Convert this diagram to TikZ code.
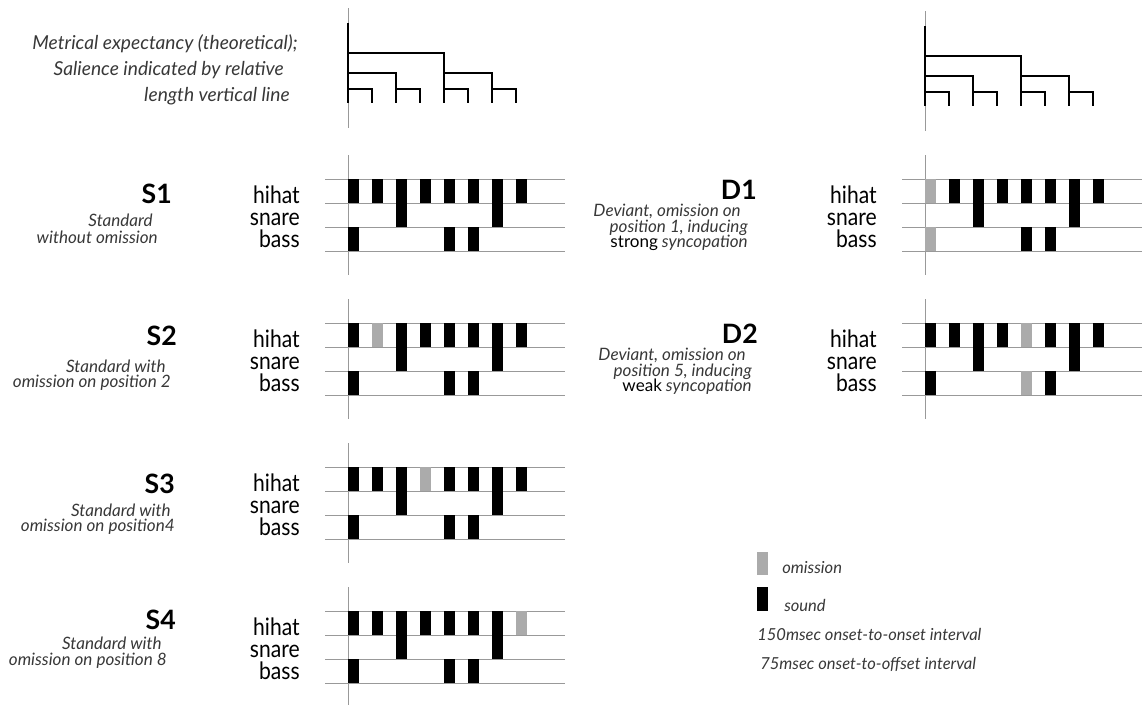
\documentclass[tikz,border=0pt]{standalone}
\usepackage{fontspec}
\setmainfont{Lato}
\usetikzlibrary{positioning}
\colorlet{omitgray}{black!33}
\colorlet{rulegray}{black!40}
\colorlet{textgray}{black!78}

% one drum pattern: axis x, top staff line y, omitted position (0 = none), name prefix
\newcommand\drumblock[4]{
  \foreach \k in {0,1,2,3} \draw[staff] (#1-23,#2+24*\k) -- (#1+217,#2+24*\k);
  \draw[axisline] (#1,#2-24) -- (#1,#2+96);
  \foreach \p in {1,...,8}{
    \ifnum\p=#3 \def\barcol{omitgray}\else\def\barcol{black}\fi
    \fill[\barcol] (#1+24*\p-24,#2) rectangle ++(10.5,24);
  }
  \foreach \p in {3,7} \fill (#1+24*\p-24,#2) rectangle ++(10.5,48);
  \foreach \p in {1,5,6}{
    \ifnum\p=#3 \def\barcol{omitgray}\else\def\barcol{black}\fi
    \fill[\barcol] (#1+24*\p-24,#2+48) rectangle ++(10.5,24);
  }
  \node[instr] (#4hihat) at (#1-48,#2+24) {hihat};
  \node[instr] (#4snare) at (#1-48,#2+46) {snare};
  \node[instr] (#4bass) at (#1-48,#2+68) {bass};
}

% metrical tree: axis x, vertical shift
\newcommand\metretree[2]{
  \draw[axisline] (#1,8+#2) -- (#1,128+#2);
  \draw[tree] (#1,23+#2) -- (#1,103+#2);
  \draw[tree] (#1,53+#2) -- (#1+96,53+#2) -- (#1+96,103+#2);
  \foreach \q in {0,96} \draw[tree] (#1+\q,73+#2) -- (#1+\q+48,73+#2) -- (#1+\q+48,103+#2);
  \foreach \q in {0,48,96,144} \draw[tree] (#1+\q,89+#2) -- (#1+\q+24,89+#2) -- (#1+\q+24,103+#2);
}

\begin{document}
\begin{tikzpicture}[x=0.75pt,y=-0.75pt,
  staff/.style={draw=rulegray,line width=0.5pt},
  axisline/.style={draw=rulegray,line width=0.6pt},
  tree/.style={line width=2.2pt},
  title/.style={anchor=base east,inner sep=0pt,font=\fontsize{20}{20}\selectfont\bfseries},
  desc/.style={anchor=base east,inner sep=0pt,text=textgray,font=\fontsize{12.8}{12.8}\selectfont\itshape},
  headtext/.style={anchor=base east,inner sep=0pt,text=textgray,font=\fontsize{14.4}{14.4}\selectfont\itshape},
  instr/.style={anchor=base east,inner sep=0pt,font=\fontsize{18}{18}\selectfont\addfontfeature{FakeStretch=0.88}},
  note/.style={anchor=base west,inner sep=0pt,text=textgray,font=\fontsize{12.4}{12.4}\selectfont\itshape}]
\useasboundingbox (0,0) rectangle (1148,704);

% expectancy trees
\node[headtext] (head1) at (298,49) {Metrical expectancy (theoretical);};
\node[headtext] (head2) at (284,75) {Salience indicated by relative};
\node[headtext] (head3) at (290,101) {length vertical line};
\metretree{348}{0}
\metretree{925}{3}

% standards
\drumblock{348}{179}{0}{s1}
\node[title] (s1) at (172,203) {S1};
\node[desc] (s1a) at (153,226) {Standard};
\node[desc] (s1b) at (158,243) {without omission};

\drumblock{348}{323}{2}{s2}
\node[title] (s2) at (177,345) {S2};
\node[desc] (s2a) at (166,372) {Standard with};
\node[desc] (s2b) at (171,387) {omission on position 2};

\drumblock{348}{467}{4}{s3}
\node[title] (s3) at (175,493) {S3};
\node[desc] (s3a) at (171,516) {Standard with};
\node[desc] (s3b) at (175,531) {omission on position4};

\drumblock{348}{611}{8}{s4}
\node[title] (s4) at (176,629) {S4};
\node[desc] (s4a) at (162,649) {Standard with};
\node[desc] (s4b) at (167,665) {omission on position 8};

% deviants
\drumblock{925}{179}{1}{d1}
\node[title] (d1) at (757,199) {D1};
\node[desc] (d1a) at (741,216) {Deviant, omission on};
\node[desc] (d1b) at (748,232) {position 1, inducing};
\node[desc] (d1c) at (748,247) {{\upshape\color{black}strong} syncopation};

\drumblock{925}{323}{5}{d2}
\node[title] (d2) at (758,343) {D2};
\node[desc] (d2a) at (746,360) {Deviant, omission on};
\node[desc] (d2b) at (752,376) {position 5, inducing};
\node[desc] (d2c) at (752,391) {{\upshape\color{black}weak} syncopation};

% legend
\fill[omitgray] (757,552) rectangle (768,575);
\node[note] (omitkey) at (782,573) {omission};
\fill (757,587) rectangle (768,611);
\node[note] (soundkey) at (784,611) {sound};
\node[note] (ioi) at (757,640) {150msec onset-to-onset interval};
\node[note] (dur) at (760,669) {75msec onset-to-offset interval};
\end{tikzpicture}
\end{document}
